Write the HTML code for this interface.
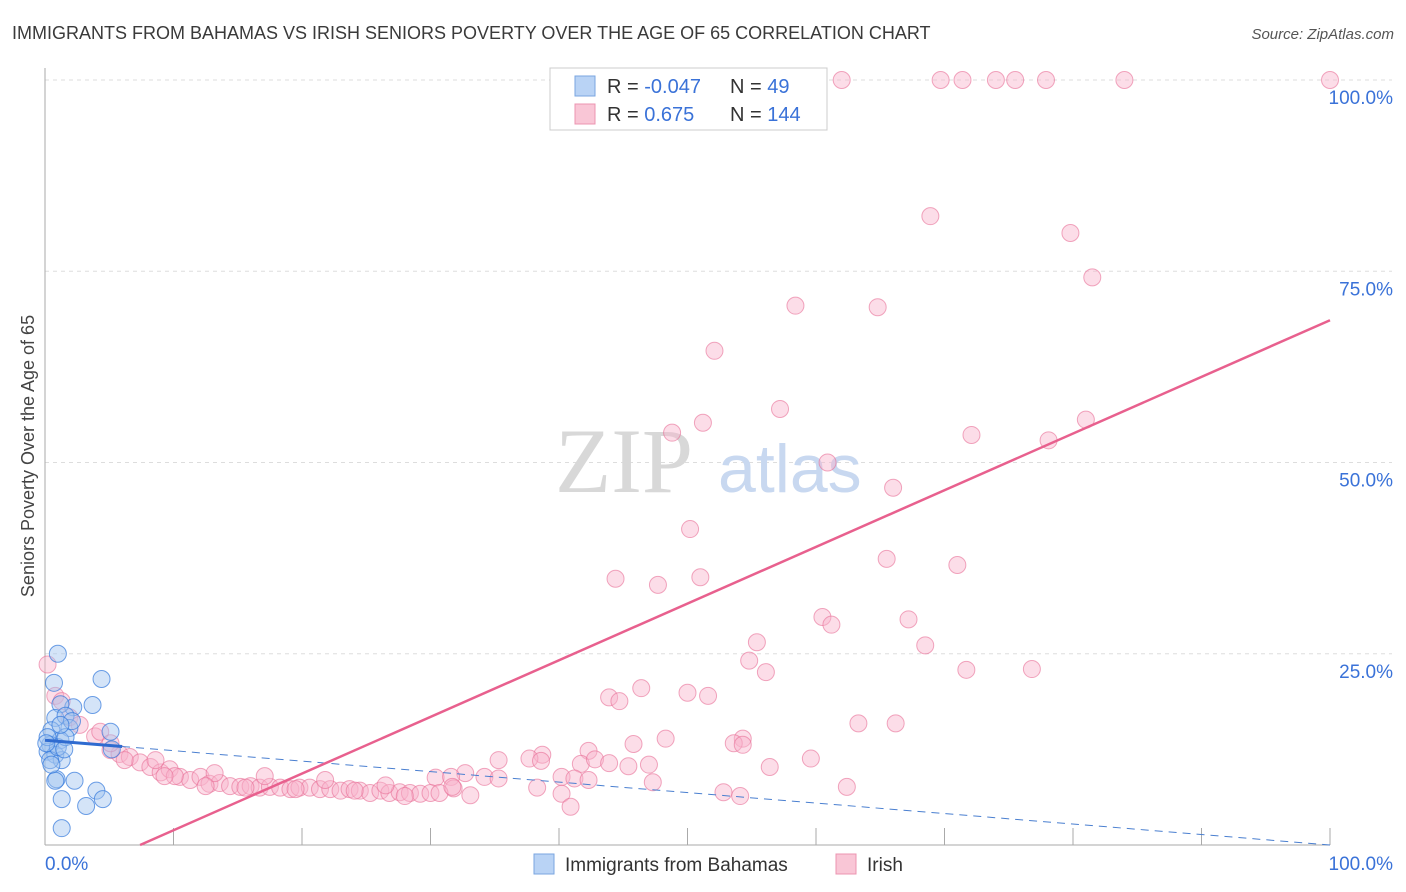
<!DOCTYPE html>
<html><head><meta charset="utf-8">
<style>
body{margin:0;background:#fff;font-family:"Liberation Sans",sans-serif;}
#wrap{position:relative;width:1406px;height:892px;overflow:hidden;}
</style></head>
<body>
<div id="wrap">
<svg id="chart" width="1406" height="892" xmlns="http://www.w3.org/2000/svg">
<text x="12" y="39" font-size="18" fill="#3a3a3a">IMMIGRANTS FROM BAHAMAS VS IRISH SENIORS POVERTY OVER THE AGE OF 65 CORRELATION CHART</text>
<text x="1394" y="39" font-size="15" fill="#555" text-anchor="end" font-style="italic">Source: ZipAtlas.com</text>
<text transform="translate(34,456) rotate(-90)" font-size="18" fill="#444" text-anchor="middle">Seniors Poverty Over the Age of 65</text>
<g id="grid"></g>
<text x="555" y="492" font-size="92" fill="#d8d8d8" font-family="Liberation Serif, serif">ZIP</text>
<text x="718" y="492" font-size="68" fill="#c8d8f0">atlas</text>
<g id="axes"></g>
<g id="marks"></g>
<g>
<rect x="550" y="68" width="277" height="62" fill="#fff" stroke="#ccc"/>
<rect x="575" y="76" width="20" height="20" fill="#b9d3f5" stroke="#7aa6e0"/>
<rect x="575" y="104" width="20" height="20" fill="#f9c6d6" stroke="#ec94b0"/>
<text x="607" y="93" font-size="20" fill="#333">R = <tspan fill="#3a72d8">-0.047</tspan></text>
<text x="730" y="93" font-size="20" fill="#333">N = <tspan fill="#3a72d8"> 49</tspan></text>
<text x="607" y="121" font-size="20" fill="#333">R = <tspan fill="#3a72d8"> 0.675</tspan></text>
<text x="730" y="121" font-size="20" fill="#333">N = <tspan fill="#3a72d8">144</tspan></text>
</g>
<g>
<rect x="534" y="854" width="20" height="20" fill="#b9d3f5" stroke="#7aa6e0"/>
<text x="565" y="871" font-size="19" fill="#333">Immigrants from Bahamas</text>
<rect x="836" y="854" width="20" height="20" fill="#f9c6d6" stroke="#ec94b0"/>
<text x="867" y="871" font-size="19" fill="#333">Irish</text>
</g>
</svg>
</div>
<script>
const yTicks=[25,50,75,100];
const yTickLabels=["25.0%","50.0%","75.0%","100.0%"];
const xTicks=[10,20,30,40,50,60,70,80,90,100];
const xLabels=["0.0%","100.0%"];
// Irish (pink) points [x%, y%]
const irishX=[62.0,69.7,71.4,74.0,75.5,77.9,84.0,100,68.9,79.8,81.5,58.4,64.8,52.1,57.2,51.2,48.8,72.1,78.1,81.0,60.9,66.0,50.2,44.4,47.7,51.0,65.5,71.0,60.5,61.2,67.2,55.4,68.5,54.8,56.1,71.7,76.8,46.4,43.9,50.0,44.7,51.6,63.3,66.2,45.8,48.3,54.3,53.6,54.3,42.3,38.7,35.3,37.7,38.6,59.6,56.4,45.4,47.0,41.7,42.8,43.9,32.7,34.2,30.4,31.6,35.3,40.2,41.2,42.3,47.3,54.1,62.4,52.8,33.1,31.8,38.3,40.2,40.9,
0.2,0.8,1.3,1.9,2.7,3.9,4.3,5.1,5.8,6.6,7.4,8.2,9.0,9.7,10.5,11.3,12.1,12.8,13.6,14.4,15.2,16.0,16.7,17.5,18.3,19.1,19.8,20.6,21.4,22.2,23.0,23.7,24.5,25.3,26.1,26.8,27.6,28.4,29.2,30.0,5.1,8.6,10.1,13.2,17.1,21.8,26.5,30.7,6.2,9.3,12.5,15.6,19.5,24.1,28.0,31.7];
const irishY=[100,100,100,100,100,100,100,100,82.2,80.0,74.2,70.5,70.3,64.6,57.0,55.2,53.9,53.6,52.9,55.6,50.0,46.7,41.3,34.8,34.0,35.0,37.4,36.6,29.8,28.8,29.5,26.5,26.1,24.1,22.6,22.9,23.0,20.5,19.3,19.9,18.8,19.5,15.9,15.9,13.2,13.9,13.9,13.3,13.1,12.3,11.8,11.1,11.3,11.0,11.3,10.2,10.3,10.5,10.6,11.2,10.7,9.4,8.9,8.8,8.9,8.7,8.9,8.7,8.5,8.2,6.4,7.6,6.9,6.5,7.4,7.5,6.7,5.0,
23.6,19.5,18.8,16.7,15.7,14.2,14.8,12.4,11.9,11.5,10.8,10.2,9.5,9.9,8.9,8.5,8.9,8.0,8.1,7.7,7.6,7.7,7.5,7.6,7.5,7.3,7.5,7.5,7.3,7.3,7.1,7.3,7.1,6.8,7.1,6.8,6.9,6.8,6.7,6.8,13.3,11.1,9.0,9.4,9.0,8.5,7.8,6.8,11.1,9.0,7.7,7.5,7.3,7.1,6.4,7.6];
// Bahamas (blue) points
const bahX=[1.0,4.4,0.7,3.7,2.2,1.2,0.8,1.6,0.5,1.9,1.2,0.4,0.2,0.8,1.3,0.4,1.0,1.6,2.1,5.1,5.2,0.9,2.3,0.8,4.0,4.5,3.2,1.3,1.3,0.2,0.5,1.5,0.1,1.2];
const bahY=[25.0,21.7,21.2,18.3,18.0,18.4,16.6,16.9,15.0,15.3,13.7,13.1,12.2,11.8,11.1,11.1,12.8,14.1,16.2,14.8,12.5,8.6,8.4,8.4,7.1,6.0,5.1,6.0,2.2,14.1,10.5,12.5,13.3,15.7];
// trend lines [x0,y0,x1,y1] in data units
const irishTrend=[7.4,0,100,68.6];
const bahTrend=[0,13.7,100,0];
const bahSolidEnd=6.0;

const X0=45,X1=1330,Y0=845,Y1=80;
const sx=v=>X0+(X1-X0)*v/100;
const sy=v=>Y0-(Y0-Y1)*v/100;
const NS="http://www.w3.org/2000/svg";
function mk(tag,attrs,parent){const e=document.createElementNS(NS,tag);for(const k in attrs)e.setAttribute(k,attrs[k]);parent.appendChild(e);return e;}
const grid=document.getElementById('grid'),axes=document.getElementById('axes'),marks=document.getElementById('marks');
yTicks.forEach((t,i)=>{
 const l=mk('line',{x1:X0,x2:1392,y1:sy(t),y2:sy(t),stroke:'#ddd','stroke-dasharray':'4,4'},grid);
 
 
 const tx=mk('text',{x:1393,y:sy(t)+24,'font-size':19,fill:'#3a72d8','text-anchor':'end'},axes);
 tx.textContent=yTickLabels[i];
 
 
});
const ax=mk('line',{x1:X0,x2:X0,y1:68,y2:Y0,stroke:'#aaa'},axes);


const bx=mk('line',{x1:X0,x2:X1,y1:Y0,y2:Y0,stroke:'#aaa'},axes);


xTicks.forEach(t=>{
 const l=mk('line',{x1:sx(t),x2:sx(t),y1:Y0,y2:Y0-17,stroke:'#aaa'},axes);
 
 
});
const xl0=mk('text',{x:45,y:870,'font-size':19,fill:'#3a72d8'},axes);xl0.textContent=xLabels[0];


const xl1=mk('text',{x:1393,y:870,'font-size':19,fill:'#3a72d8','text-anchor':'end'},axes);xl1.textContent=xLabels[1];



irishX.forEach((x,i)=>{
 const c=mk('circle',{cx:sx(x),cy:sy(irishY[i]),r:8.5,fill:'rgba(249,180,204,0.45)',stroke:'rgba(232,110,150,0.6)','stroke-width':1},marks);
 
 
});
bahX.forEach((x,i)=>{
 const c=mk('circle',{cx:sx(x),cy:sy(bahY[i]),r:8.5,fill:'rgba(160,196,240,0.45)',stroke:'rgba(50,120,220,0.7)','stroke-width':1},marks);
 
 
});
const by=v=>bahTrend[1]+(bahTrend[3]-bahTrend[1])*(v-bahTrend[0])/(bahTrend[2]-bahTrend[0]);
const bd=mk('line',{x1:sx(bahSolidEnd),y1:sy(by(bahSolidEnd)),x2:sx(bahTrend[2]),y2:sy(bahTrend[3]),stroke:'#4a7fd0','stroke-width':1,'stroke-dasharray':'8,6'},marks);


const bs=mk('line',{x1:sx(bahTrend[0]),y1:sy(bahTrend[1]),x2:sx(bahSolidEnd),y2:sy(by(bahSolidEnd)),stroke:'#2f6bd0','stroke-width':3},marks);


const it=mk('line',{x1:sx(irishTrend[0]),y1:sy(irishTrend[1]),x2:sx(irishTrend[2]),y2:sy(irishTrend[3]),stroke:'#e8608e','stroke-width':2.5},marks);


</script>
</body></html>
